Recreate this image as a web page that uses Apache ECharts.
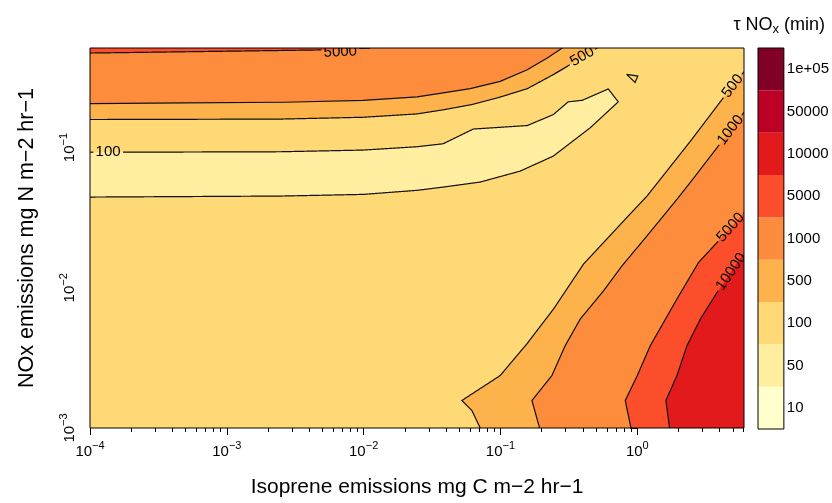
<!DOCTYPE html>
<html><head><meta charset="utf-8">
<script src="https://cdn.jsdelivr.net/npm/echarts@6/dist/echarts.min.js"></script>
<style>html,body{margin:0;padding:0;background:#fff}#c{width:832px;height:503px}</style>
</head><body><div id="c"></div>
<script>
// ---- axes (log10 of emissions) ----
const xExtentLog = [-4, 0.78];   // isoprene 1e-4 .. ~6 mg C m-2 hr-1
const yExtentLog = [-3, -0.29];  // NOx 1e-3 .. ~0.51 mg N m-2 hr-1
const xTickExps = [-4, -3, -2, -1, 0];
const yTickExps = [-3, -2, -1];

// ---- colour key ----
const keyLabels = ['10', '50', '100', '500', '1000', '5000', '10000', '50000', '1e+05'];
const keyColors = ['#FFFFCC', '#FFEDA0', '#FED976', '#FEB24C', '#FD8D3C', '#FC4E2A', '#E31A1C', '#BD0026', '#800026'];

// ---- contour lines, points are [log10 isoprene, log10 NOx] ----
const c5000Top = [[-4.00, -0.326], [-3.00, -0.313], [-2.33, -0.304], [-1.95, -0.29]];
const c1000Top = [[-4.00, -0.686], [-3.305, -0.681], [-2.574, -0.677], [-2.004, -0.663], [-1.609, -0.639], [-1.419, -0.610], [-1.221, -0.580], [-1.002, -0.528], [-0.804, -0.445], [-0.658, -0.361], [-0.548, -0.29]];
const c500Top = [[-4.00, -0.800], [-2.611, -0.797], [-2.004, -0.784], [-1.609, -0.760], [-1.419, -0.731], [-1.207, -0.693], [-1.002, -0.640], [-0.804, -0.580], [-0.614, -0.480], [-0.512, -0.421], [-0.402, -0.352], [-0.292, -0.29]];
const c100Upper = [[-4.00, -1.033], [-3.744, -1.033], [-2.611, -1.030], [-2.004, -1.018], [-1.609, -0.994], [-1.419, -0.973], [-1.199, -0.868], [-0.804, -0.843], [-0.614, -0.765], [-0.505, -0.674], [-0.402, -0.663], [-0.212, -0.582], [-0.139, -0.674]];
const c100Lower = [[-0.344, -0.859], [-0.614, -1.061], [-0.856, -1.168], [-1.148, -1.246], [-1.419, -1.282], [-1.609, -1.305], [-2.004, -1.334], [-2.611, -1.346], [-4.00, -1.353]];
const cTriangle = [[-0.078, -0.478], [0.004, -0.490], [-0.016, -0.536], [-0.078, -0.478]];
const c500Right = [[-1.148, -3.00], [-1.209, -2.875], [-1.282, -2.804], [-1.002, -2.626], [-0.807, -2.400], [-0.612, -2.151], [-0.393, -1.831], [-0.088, -1.511], [0.071, -1.346], [0.388, -0.955], [0.619, -0.658], [0.78, -0.459]];
const c1000Right = [[-0.714, -3.00], [-0.770, -2.804], [-0.624, -2.626], [-0.527, -2.413], [-0.417, -2.223], [-0.246, -2.021], [-0.112, -1.844], [0.071, -1.630], [0.290, -1.369], [0.388, -1.248], [0.583, -1.001], [0.78, -0.749]];
const c5000Right = [[-0.046, -3.00], [-0.088, -2.804], [0.000, -2.626], [0.095, -2.413], [0.290, -2.080], [0.448, -1.819], [0.583, -1.677], [0.78, -1.465]];
const c10000Right = [[0.236, -3.00], [0.209, -2.804], [0.290, -2.626], [0.363, -2.413], [0.461, -2.223], [0.583, -2.033], [0.78, -1.751]];

// contour label anchors [log10 isoprene, log10 NOx]
const label5000Top = [-2.17, -0.318];
const label500Top = [-0.40, -0.355];
const label100 = [-3.868, -1.033];
const label500Right = [0.702, -0.565];
const label1000Right = [0.695, -0.885];
const label5000Right = [0.680, -1.568];
const label10000Right = [0.680, -1.881];

// ---------------------------------------------------------------
const X0 = xExtentLog[0], X1 = xExtentLog[1], Y0 = yExtentLog[0], Y1 = yExtentLog[1];
const FONT = '"Liberation Sans", Arial, Helvetica, sans-serif';
const LABEL_FS = 15;

const fillRegions = [
  { band: 2, pts: [[X0, Y0], [X1, Y0], [X1, Y1], [X0, Y1]] },
  { band: 1, pts: c100Upper.concat(c100Lower) },
  { band: 3, pts: [[X0, Y1]].concat(c500Top) },
  { band: 3, pts: c500Right.concat([[X1, Y0]]) },
  { band: 4, pts: [[X0, Y1]].concat(c1000Top) },
  { band: 4, pts: c1000Right.concat([[X1, Y0]]) },
  { band: 5, pts: [[X0, Y1]].concat(c5000Top) },
  { band: 5, pts: c5000Right.concat([[X1, Y0]]) },
  { band: 6, pts: c10000Right.concat([[X1, Y0]]) }
];

// snap: whether the label is centred on the line itself
const contourLines = [
  { pts: c5000Top, text: '5000', label: label5000Top, snap: false },
  { pts: c1000Top },
  { pts: c500Top, text: '500', label: label500Top, snap: true },
  { pts: c100Upper.concat(c100Lower), text: '100', label: label100, snap: true },
  { pts: cTriangle },
  { pts: c500Right, text: '500', label: label500Right, snap: true },
  { pts: c1000Right, text: '1000', label: label1000Right, snap: true },
  { pts: c5000Right, text: '5000', label: label5000Right, snap: true },
  { pts: c10000Right, text: '10000', label: label10000Right, snap: true }
];

function minorTicks(lo, hi) {
  const out = [];
  for (let n = Math.floor(lo); n <= Math.ceil(hi); n++) {
    for (let k = 2; k <= 9; k++) {
      const v = n + Math.log10(k);
      if (v > lo + 1e-9 && v <= hi + 1e-6) out.push(v);
    }
  }
  return out;
}
const xMinor = minorTicks(X0, X1);
const yMinor = minorTicks(Y0, Y1);

const mctx = document.createElement('canvas').getContext('2d');
function textWidth(t, fs) { mctx.font = fs + 'px "Liberation Sans"'; return mctx.measureText(t).width; }

function nearest(px, c) {
  let best = null;
  for (let i = 0; i < px.length - 1; i++) {
    const a = px[i], b = px[i + 1];
    const vx = b[0] - a[0], vy = b[1] - a[1];
    const L2 = vx * vx + vy * vy || 1;
    let t = ((c[0] - a[0]) * vx + (c[1] - a[1]) * vy) / L2;
    t = Math.max(0, Math.min(1, t));
    const p = [a[0] + vx * t, a[1] + vy * t];
    const d = Math.hypot(p[0] - c[0], p[1] - c[1]);
    if (!best || d < best.d) best = { d, p, a, b };
  }
  return best;
}

function splitByLabel(pts, c, ang, w, h) {
  const dx = Math.cos(ang), dy = -Math.sin(ang);
  const nx = -dy, ny = dx;
  const inside = p => {
    const rx = p[0] - c[0], ry = p[1] - c[1];
    return Math.abs(rx * dx + ry * dy) < w / 2 && Math.abs(rx * nx + ry * ny) < h / 2;
  };
  const out = []; let cur = [];
  for (let i = 0; i < pts.length - 1; i++) {
    const a = pts[i], b = pts[i + 1];
    const L = Math.hypot(b[0] - a[0], b[1] - a[1]);
    const n = Math.max(1, Math.ceil(L / 0.5));
    for (let k = (i === 0 ? 0 : 1); k <= n; k++) {
      const t = k / n;
      const p = [a[0] + (b[0] - a[0]) * t, a[1] + (b[1] - a[1]) * t];
      if (inside(p)) { if (cur.length > 1) out.push(cur); cur = []; }
      else cur.push(p);
    }
  }
  if (cur.length > 1) out.push(cur);
  return out;
}

function expText(v) {
  const n = Math.round(v);
  return n < 0 ? '\u2212' + (-n) : String(n);
}
const tickRich = {
  b: { fontSize: 15, fontFamily: FONT, color: '#000', verticalAlign: 'bottom' },
  s: { fontSize: 11, fontFamily: FONT, color: '#000', verticalAlign: 'bottom', padding: [0, 0, 8, 0] }
};

const chart = echarts.init(document.getElementById('c'), null, { renderer: 'canvas' });
chart.setOption({
  animation: false,
  backgroundColor: '#fff',
  title: {
    text: '\u03C4 NO{sub|x} (min)',
    right: 2, top: 9,
    textStyle: {
      fontSize: 18, fontWeight: 'normal', color: '#000', fontFamily: FONT,
      rich: { sub: { fontSize: 13, fontFamily: FONT, color: '#000', verticalAlign: 'top', padding: [9, 0, 0, 0] } }
    }
  },
  grid: [
    { left: 90, top: 48, width: 654, height: 381, show: true, borderColor: '#000', borderWidth: 1, backgroundColor: 'transparent', z: 10 },
    { left: 758, top: 48, width: 27, height: 381, show: true, borderColor: '#000', borderWidth: 1, backgroundColor: 'transparent', z: 10 }
  ],
  xAxis: [
    {
      gridIndex: 0, type: 'value', min: X0, max: X1, position: 'bottom',
      axisLine: { show: false }, splitLine: { show: false },
      axisTick: { show: true, customValues: xTickExps, length: 7, lineStyle: { color: '#000' } },
      axisLabel: { customValues: xTickExps, fontSize: 15, margin: 12, formatter: v => '{b|10}{s|' + expText(v) + '}', rich: tickRich },
      name: 'Isoprene emissions mg C m\u22122 hr\u22121', nameLocation: 'middle', nameGap: 49,
      nameTextStyle: { fontSize: 21, fontFamily: FONT, color: '#000' }
    },
    {
      gridIndex: 0, type: 'value', min: X0, max: X1, position: 'bottom',
      axisLine: { show: false }, splitLine: { show: false }, axisLabel: { show: false },
      axisTick: { show: true, customValues: xMinor, length: 4, lineStyle: { color: '#000' } }
    },
    { gridIndex: 1, type: 'value', min: 0, max: 1, show: false }
  ],
  yAxis: [
    {
      gridIndex: 0, type: 'value', min: Y0, max: Y1, position: 'left',
      axisLine: { show: false }, splitLine: { show: false },
      axisTick: { show: true, customValues: yTickExps, length: 7, lineStyle: { color: '#000' } },
      axisLabel: { customValues: yTickExps, fontSize: 15, rotate: 90, margin: 13, formatter: v => '{b|10}{s|' + expText(v) + '}', rich: tickRich },
      name: 'NOx emissions mg N m\u22122 hr\u22121', nameLocation: 'middle', nameGap: 52,
      nameTextStyle: { fontSize: 21.5, fontFamily: FONT, color: '#000' }
    },
    {
      gridIndex: 0, type: 'value', min: Y0, max: Y1, position: 'left',
      axisLine: { show: false }, splitLine: { show: false }, axisLabel: { show: false },
      axisTick: { show: true, customValues: yMinor, length: 4, lineStyle: { color: '#000' } }
    },
    {
      gridIndex: 1, type: 'category', data: keyLabels, position: 'right',
      axisLine: { show: false }, axisTick: { show: false }, splitLine: { show: false },
      axisLabel: { fontSize: 15, margin: 3, color: '#000', fontFamily: FONT }
    }
  ],
  series: [
    {
      type: 'custom', name: 'fill', xAxisIndex: 0, yAxisIndex: 0, clip: true, silent: true,
      data: fillRegions.map((r, i) => [X0, Y0, i]),
      renderItem: (params, api) => {
        const r = fillRegions[params.dataIndex];
        return { type: 'polygon', shape: { points: r.pts.map(p => api.coord(p)) }, style: { fill: keyColors[r.band] } };
      }
    },
    {
      type: 'custom', name: 'contours', xAxisIndex: 0, yAxisIndex: 0, clip: true, silent: true,
      data: contourLines.map((c, i) => [X0, Y0, i]),
      renderItem: (params, api) => {
        const cl = contourLines[params.dataIndex];
        const px = cl.pts.map(p => api.coord(p));
        const children = [];
        let pieces = [px];
        if (cl.label) {
          const anchor = api.coord(cl.label);
          const nb = nearest(px, anchor);
          const c = cl.snap ? nb.p : anchor;
          let ang = Math.atan2(-(nb.b[1] - nb.a[1]), nb.b[0] - nb.a[0]);
          if (ang > Math.PI / 2) ang -= Math.PI;
          if (ang < -Math.PI / 2) ang += Math.PI;
          const w = textWidth(cl.text, LABEL_FS) + 4, h = LABEL_FS + 2;
          pieces = splitByLabel(px, c, ang, w, h);
          children.push({
            type: 'text', x: c[0], y: c[1], rotation: ang,
            style: { text: cl.text, fontSize: LABEL_FS, fontFamily: FONT, fill: '#000', align: 'center', verticalAlign: 'middle' }
          });
        }
        pieces.forEach(pc => children.push({ type: 'polyline', shape: { points: pc }, style: { stroke: '#111', lineWidth: 1.2, fill: null } }));
        return { type: 'group', children };
      }
    },
    {
      type: 'bar', name: 'key', xAxisIndex: 2, yAxisIndex: 2, barWidth: '100%', silent: true,
      data: keyColors.map(c => ({ value: 1, itemStyle: { color: c } }))
    }
  ]
});
</script>
</body></html>
